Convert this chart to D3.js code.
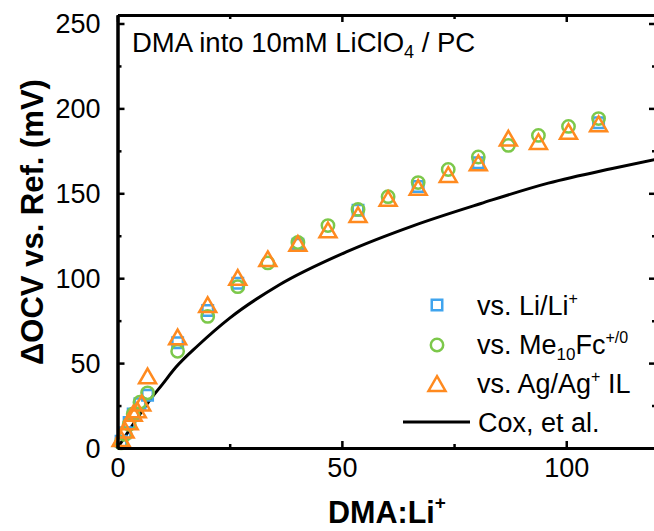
<!DOCTYPE html>
<html><head><meta charset="utf-8">
<script src="https://cdn.jsdelivr.net/npm/d3@7"></script>
<style>
html,body{margin:0;padding:0;background:#fff;}
text{font-family:Arial,"Liberation Sans",sans-serif;}
</style></head>
<body><svg id="c" width="654" height="531"></svg>
<script>
// ---- data ----
const liX = [0.8, 1.7, 2.6, 3.5, 5.0, 6.7, 13.4, 20.1, 26.8, 40.2, 53.6, 67.0, 80.4, 107.2];
const liY = [4, 9, 15, 20, 26, 31, 62, 81, 97, 120, 140, 154, 168, 191.5];
const meX = [0.8, 1.7, 2.6, 3.5, 5.0, 6.7, 13.4, 20.1, 26.8, 33.5, 40.2, 46.9, 53.6, 60.3, 67.0, 73.7, 80.4, 87.1, 93.8, 100.5, 107.2];
const meY = [3, 8, 14, 20, 27, 32.5, 57, 77.5, 95, 109, 121, 131, 140.5, 148, 156.3, 164, 171.4, 178.2, 184.1, 189.4, 194];
const agX = [0.8, 1.7, 2.6, 3.5, 4.4, 5.4, 6.7, 13.4, 20.1, 26.8, 33.5, 40.2, 46.9, 53.6, 60.3, 67.0, 73.7, 80.4, 87.1, 93.8, 100.5, 107.2];
const agY = [4, 9, 14, 19, 21, 25, 41, 64, 83, 99, 110, 119, 127, 136, 145.5, 152, 159.6, 166.5, 181, 179, 185, 189.5];
const coxX = [0, 2, 4, 7, 10, 13, 18, 25, 36, 51, 66, 81, 96, 110, 120];
const coxY = [0, 8, 16, 27.5, 37.5, 47.5, 60.5, 76.5, 96, 115.5, 131, 144, 156, 164.5, 170];
const xMajor = [0, 50, 100];
const xMinor = [25, 75];
const yMajor = [0, 50, 100, 150, 200, 250];
const yMinor = [25, 75, 125, 175, 225];

const svg = d3.select("#c");
const x = d3.scaleLinear().domain([0, 120]).range([117.5, 656]);
const y = d3.scaleLinear().domain([0, 255]).range([448, 15]);

const blue = "#3FA4EE", green = "#7CC84A", orange = "#FF8A1F";
const FS = 27;

// curve
const line = d3.line().x(d => x(d[0])).y(d => y(d[1])).curve(d3.curveMonotoneX);
svg.append("path").datum(coxX.map((v, i) => [v, coxY[i]]))
  .attr("d", line).attr("fill", "none").attr("stroke", "#000").attr("stroke-width", 3);

function markers(xs, ys, type, color, size) {
  svg.append("g").selectAll("path").data(xs.map((v, i) => [v, ys[i]])).join("path")
    .attr("transform", d => `translate(${x(d[0])},${y(d[1])})`)
    .attr("d", d3.symbol().type(type).size(size))
    .attr("fill", "none").attr("stroke", color).attr("stroke-width", 2.5);
}
markers(liX, liY, d3.symbolSquare, blue, 110);
markers(meX, meY, d3.symbolCircle, green, 120);
markers(agX, agY, d3.symbolTriangle, orange, 125);

// axes
function ax(gen, scale, vals, size, tr, labels) {
  const a = gen(scale).tickValues(vals).tickSize(size).tickSizeOuter(0);
  if (!labels) a.tickFormat("");
  const g = svg.append("g").attr("transform", tr).call(a);
  g.selectAll("path.domain").attr("stroke", "#000").attr("stroke-width", 3);
  g.selectAll(".tick line").attr("stroke", "#000").attr("stroke-width", 2.5);
  g.selectAll("text").attr("font-size", FS).attr("fill", "#000")
    .style("font-family", 'Arial,"Liberation Sans",sans-serif');
  return g;
}
const gb = ax(d3.axisBottom, x, xMajor, -7, "translate(0,448)", true);
gb.selectAll("text").attr("y", 10).attr("dy", "0.71em");
ax(d3.axisBottom, x, xMinor, -4, "translate(0,448)", false);
ax(d3.axisTop, x, xMajor, -7, "translate(0,15)", false);
ax(d3.axisTop, x, xMinor, -4, "translate(0,15)", false);
const gl = ax(d3.axisLeft, y, yMajor, -7, "translate(117.5,0)", true);
gl.selectAll("text").attr("x", -17).attr("dy", "0.35em");
ax(d3.axisLeft, y, yMinor, -4, "translate(117.5,0)", false);
ax(d3.axisRight, y, yMajor, -7, "translate(656,0)", false);
ax(d3.axisRight, y, yMinor, -4, "translate(656,0)", false);

// title
const t = svg.append("text").attr("x", 132).attr("y", 52).attr("font-size", 27.5);
t.append("tspan").text("DMA into 10mM LiClO");
t.append("tspan").attr("font-size", 18).attr("dy", 6).text("4");
t.append("tspan").attr("dy", -6).text(" / PC");

// axis titles
const xt = svg.append("text").attr("x", 387).attr("y", 523).attr("text-anchor", "middle")
  .attr("font-size", 30.5).attr("font-weight", "bold");
xt.append("tspan").text("DMA:Li");
xt.append("tspan").attr("font-size", 19).attr("dy", -14).text("+");

svg.append("text").attr("transform", "translate(43,222) rotate(-90)")
  .attr("text-anchor", "middle").attr("font-size", 31).attr("font-weight", "bold")
  .text("\u0394OCV vs. Ref. (mV)");

// legend
const lg = svg.append("g");
lg.append("path").attr("transform", "translate(437,305)").attr("d", d3.symbol().type(d3.symbolSquare).size(110)())
  .attr("fill", "none").attr("stroke", blue).attr("stroke-width", 2.5);
lg.append("path").attr("transform", "translate(437,345)").attr("d", d3.symbol().type(d3.symbolCircle).size(120)())
  .attr("fill", "none").attr("stroke", green).attr("stroke-width", 2.5);
lg.append("path").attr("transform", "translate(437,386)").attr("d", d3.symbol().type(d3.symbolTriangle).size(125)())
  .attr("fill", "none").attr("stroke", orange).attr("stroke-width", 2.5);
lg.append("line").attr("x1", 403).attr("x2", 470).attr("y1", 422).attr("y2", 422)
  .attr("stroke", "#000").attr("stroke-width", 3);

function ltext(xx, yy) { return lg.append("text").attr("x", xx).attr("y", yy).attr("font-size", FS); }
let l1 = ltext(477, 315); l1.append("tspan").text("vs. Li/Li"); l1.append("tspan").attr("font-size", 16).attr("dy", -11).text("+");
let l2 = ltext(477, 354); l2.append("tspan").text("vs. Me"); l2.append("tspan").attr("font-size", 17).attr("dy", 6).text("10");
l2.append("tspan").attr("dy", -6).text("Fc"); l2.append("tspan").attr("font-size", 16).attr("dy", -11).text("+/0");
let l3 = ltext(477, 393); l3.append("tspan").text("vs. Ag/Ag"); l3.append("tspan").attr("font-size", 16).attr("dy", -11).text("+");
l3.append("tspan").attr("dy", 11).text(" IL");
let l4 = ltext(478, 432); l4.text("Cox, et al.");
</script></body></html>
